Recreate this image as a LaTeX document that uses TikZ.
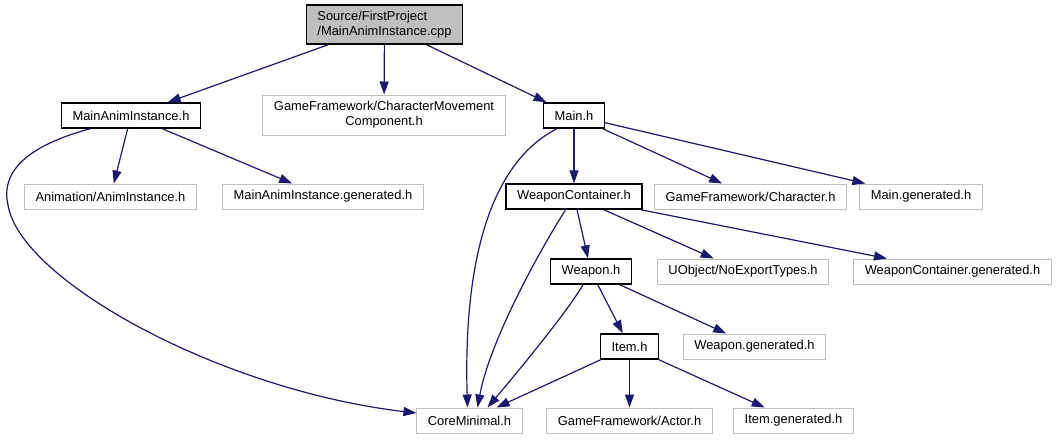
\documentclass[tikz,border=0pt]{standalone}
\usepackage{fontspec}
\setmainfont{Liberation Sans}
\usetikzlibrary{arrows.meta}
\definecolor{edgeblue}{HTML}{191970}
\definecolor{boxgray}{HTML}{BFBFBF}

\begin{document}
\begin{tikzpicture}[x=1pt, y=-1pt,
        font=\fontsize{12.9}{15}\selectfont,
        file/.style={draw=black, line width=1.4pt, fill=white, inner xsep=11pt, inner ysep=0pt, minimum height=25pt},
        sysfile/.style={draw=boxgray, line width=1pt, fill=white, inner xsep=11pt, inner ysep=0pt, minimum height=25pt},
        rootfile/.style={file, fill=boxgray, align=left, minimum height=39pt},
        inc/.style={draw=edgeblue, line width=1.2pt, -{Triangle[length=13pt,width=9pt]}}]
        \useasboundingbox (0,0) rectangle (1057,440);

        % Root source file
        \node[rootfile] (root) at (384.5,24.5) {Source/FirstProject\\/MainAnimInstance.cpp};

        % First level includes
        \node[file] (mai) at (131,115.5) {MainAnimInstance.h};
        \node[sysfile, align=center, minimum height=40pt] (cmc) at (384,115) {GameFramework/CharacterMovement\\Component.h};
        \node[file] (main) at (574,115.5) {Main.h};

        % Second level
        \node[sysfile] (anim) at (110.5,196.5) {Animation/AnimInstance.h};
        \node[sysfile] (maigen) at (323,196.5) {MainAnimInstance.generated.h};
        \node[file] (wc) at (574,196.5) {WeaponContainer.h};
        \node[sysfile] (chr) at (750.5,196.5) {GameFramework/Character.h};
        \node[sysfile] (maingen) at (921,196.5) {Main.generated.h};

        % Third level
        \node[file] (weapon) at (591,271.5) {Weapon.h};
        \node[sysfile] (noexp) at (743,271.5) {UObject/NoExportTypes.h};
        \node[sysfile] (wcgen) at (952.5,271.5) {WeaponContainer.generated.h};

        % Fourth level
        \node[file] (item) at (629.5,346.5) {Item.h};
        \node[sysfile] (weapongen) at (754.5,346.5) {Weapon.generated.h};

        % Bottom row
        \node[sysfile] (core) at (469.5,420.5) {CoreMinimal.h};
        \node[sysfile] (actor) at (629.5,420.5) {GameFramework/Actor.h};
        \node[sysfile] (itemgen) at (793.5,420.5) {Item.generated.h};

        % Includes of the root
        \draw[inc] (root) -- (mai);
        \draw[inc] (root) -- (cmc);
        \draw[inc] (root) -- (main);

        % Includes of MainAnimInstance.h
        \draw[inc] (mai) -- (anim);
        \draw[inc] (mai) -- (maigen);
        \draw[inc] (mai.198) .. controls (30,145) and (0,170) .. (8,205)
            .. controls (20,280) and (220,390) .. (core.172);

        % Includes of Main.h
        \draw[inc] (main) -- (wc);
        \draw[inc] (main) -- (chr);
        \draw[inc] (main) -- (maingen);
        \draw[inc] (main.218) .. controls (495,160) and (463,250) .. ([xshift=-2pt]core.north);

        % Includes of WeaponContainer.h
        \draw[inc] (wc) -- (weapon);
        \draw[inc] (wc) -- (noexp);
        \draw[inc] (wc) -- (wcgen);
        \draw[inc] (wc) .. controls (540,250) and (490,340) .. ([xshift=8pt]core.north);

        % Includes of Weapon.h
        \draw[inc] (weapon) -- (item);
        \draw[inc] (weapon) -- (weapongen);
        \draw[inc] (weapon) .. controls (565,315) and (515,375) .. ([xshift=18pt]core.north);

        % Includes of Item.h
        \draw[inc] (item) -- ([xshift=27pt]core.north);
        \draw[inc] (item) -- (actor);
        \draw[inc] (item) -- (itemgen);
    \end{tikzpicture}
\end{document}
